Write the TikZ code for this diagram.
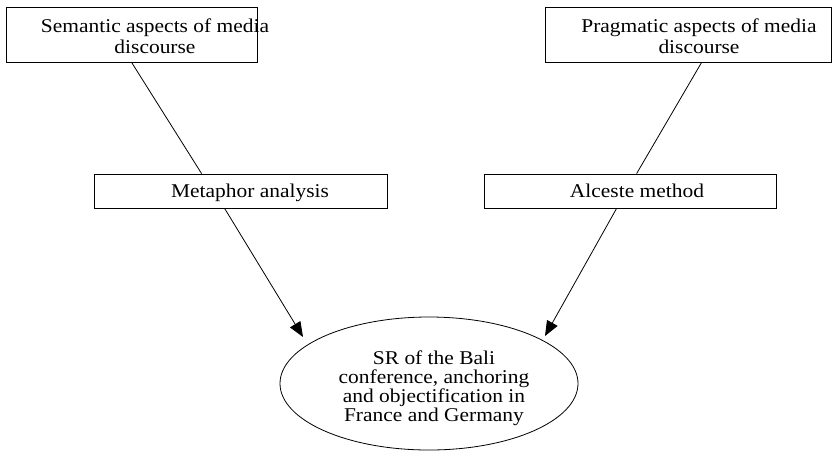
\documentclass[tikz,border=0pt]{standalone}
\usepackage{fontspec}
\setmainfont{Liberation Serif}[FakeStretch=1.1]
\usetikzlibrary{arrows.meta,shapes.geometric}
\begin{document}
\begin{tikzpicture}[x=1pt,y=-1pt,
  box/.style={draw,line width=0.8pt,inner sep=0pt},
  lbl/.style={font=\fontsize{19.5}{21}\selectfont,inner sep=0pt,align=center},
  elbl/.style={font=\fontsize{19.5}{19}\selectfont,inner sep=0pt,align=center},
  conn/.style={line width=0.8pt},
  arr/.style={line width=0.8pt,-{Triangle[length=15pt,width=12pt]}}]
\useasboundingbox (0,0) rectangle (832,451);
% boxes
\node[box,minimum width=251pt,minimum height=55pt] (sem) at (131.5,34.5) {};
\node[box,minimum width=286pt,minimum height=55pt] (prag) at (688,34.5) {};
\node[box,minimum width=293pt,minimum height=34pt] (met) at (240.5,191) {};
\node[box,minimum width=292pt,minimum height=34pt] (alc) at (630,191) {};
\node[draw,ellipse,line width=0.8pt,inner sep=0pt,minimum width=298pt,minimum height=133pt] (sr) at (429,383.5) {};
% texts
\node[lbl] (semt) at (155,35.9) {Semantic aspects of media\\discourse};
\node[lbl] (pragt) at (699,35.9) {Pragmatic aspects of media\\discourse};
\node[lbl,anchor=base] (mett) at (250,197.5) {Metaphor analysis};
\node[lbl,anchor=base] (alct) at (637,197.5) {Alceste method};
\node[elbl] (srt) at (434,388) {SR of the Bali\\conference, anchoring\\and objectification in\\France and Germany};
% connectors
\draw[conn] ([xshift=126pt]sem.south west) -- ([xshift=108pt]met.north west);
\draw[conn] ([xshift=157pt]prag.south west) -- ([xshift=153pt]alc.north west);
\coordinate (tipL) at ([shift={(-126,-46.5)}]sr.center);
\coordinate (tipR) at ([shift={(116,-47.5)}]sr.center);
\draw[arr] ([xshift=131pt]met.south west) -- (tipL);
\draw[arr] ([xshift=133pt]alc.south west) -- (tipR);
\end{tikzpicture}
\end{document}
